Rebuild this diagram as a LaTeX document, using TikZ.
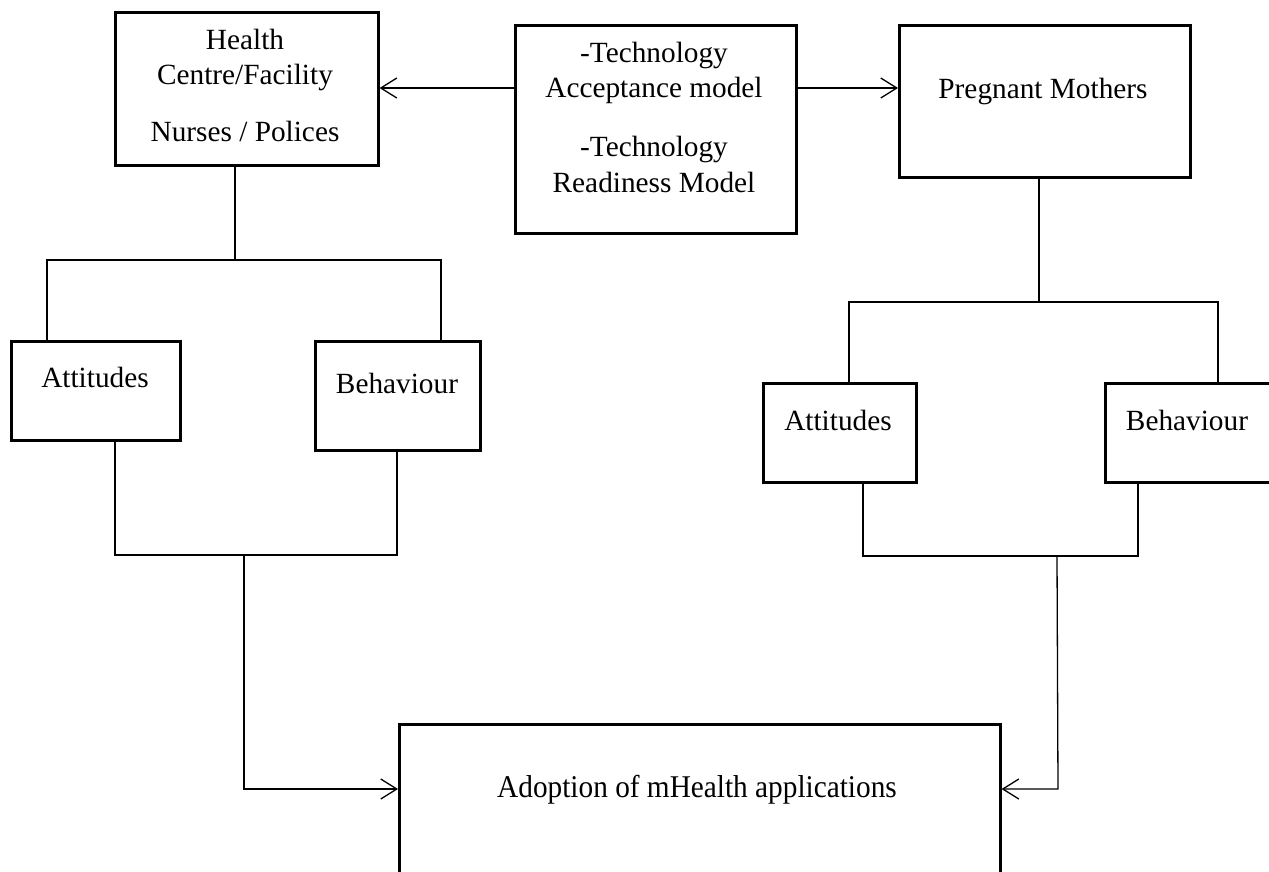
\documentclass[tikz,border=0pt]{standalone}
\usepackage{fontspec}
\setmainfont{Liberation Serif}
\usetikzlibrary{arrows.meta}
\begin{document}
\begin{tikzpicture}[x=1pt,y=-1pt,
  box/.style={draw, line width=2.6pt, inner sep=0pt, anchor=north west, rectangle},
  txt/.style={anchor=base, inner sep=0pt, font=\fontsize{29.3}{35}\selectfont},
  conn/.style={line width=1.3pt},
  arr/.style={-{Straight Barb[length=16pt,width=20pt]}}]
\fill[white] (0,0) rectangle (1269,871);
\useasboundingbox (0,0) rectangle (1269,871);
% boxes
\node[box, minimum width=263pt, minimum height=153pt] (HC) at (114,11) {};
\node[box, minimum width=281pt, minimum height=208pt] (TAM) at (514,24) {};
\node[box, minimum width=291pt, minimum height=152pt] (PM) at (898,24) {};
\node[box, minimum width=169pt, minimum height=99pt] (AttL) at (10,340) {};
\node[box, minimum width=165pt, minimum height=109pt] (BehL) at (314,340) {};
\node[box, minimum width=153pt, minimum height=99pt] (AttR) at (762,382) {};
\node[box, minimum width=230pt, minimum height=99pt] (BehR) at (1104,382) {};
\node[box, minimum width=601pt, minimum height=180pt] (Adopt) at (398,723) {};
% texts
\node[txt] (t1) at (245,49) {Health};
\node[txt] (t2) at (245,84) {Centre/Facility};
\node[txt] (t3) at (245,141) {Nurses / Polices};
\node[txt] (t4) at (654,62) {-Technology};
\node[txt] (t5) at (654,97) {Acceptance model};
\node[txt] (t6) at (654,156) {-Technology};
\node[txt] (t7) at (654,192) {Readiness Model};
\node[txt] (t8) at (1043,98) {Pregnant Mothers};
\node[txt] (t9) at (95,387) {Attitudes};
\node[txt] (t10) at (397,393) {Behaviour};
\node[txt] (t11) at (838,430) {Attitudes};
\node[txt] (t12) at (1187,430) {Behaviour};
\node[txt] (t13) at (697,797) {\scalebox{1}[1.08]{Adoption of mHealth applications}};
% coordinates
\coordinate (ya) at (0,88);
\coordinate (hcT) at (235,260);
\coordinate (aL) at (47,260);
\coordinate (bL) at (441,260);
\coordinate (aLb) at (115,555);
\coordinate (bLb) at (397,555);
\coordinate (jL) at (244,555);
\coordinate (arL) at (244,789);
\coordinate (pmJ) at (1039,302);
\coordinate (aR) at (849,302);
\coordinate (bR) at (1218,302);
\coordinate (aRb) at (863,556);
\coordinate (bRb) at (1138,556);
\coordinate (jR) at (1057,556);
\coordinate (arR) at (1058,789);
% connectors
\draw[conn,arr] (TAM.west |- ya) -- (HC.east |- ya);
\draw[conn,arr] (TAM.east |- ya) -- (PM.west |- ya);
\draw[conn] (HC.south -| hcT) -- (hcT);
\draw[conn] (AttL.north -| aL) -- (aL) -- (bL) -- (BehL.north -| bL);
\draw[conn] (AttL.south -| aLb) -- (aLb) -- (bLb) -- (BehL.south -| bLb);
\draw[conn,arr] (jL) -- (arL) -- (Adopt.west |- arL);
\draw[conn] (PM.south -| pmJ) -- (pmJ);
\draw[conn] (AttR.north -| aR) -- (aR) -- (bR) -- (BehR.north -| bR);
\draw[conn] (AttR.south -| aRb) -- (aRb) -- (bRb) -- (BehR.south -| bRb);
\draw[conn,arr] (jR) -- (arR) -- (Adopt.east |- arR);
\end{tikzpicture}
\end{document}
